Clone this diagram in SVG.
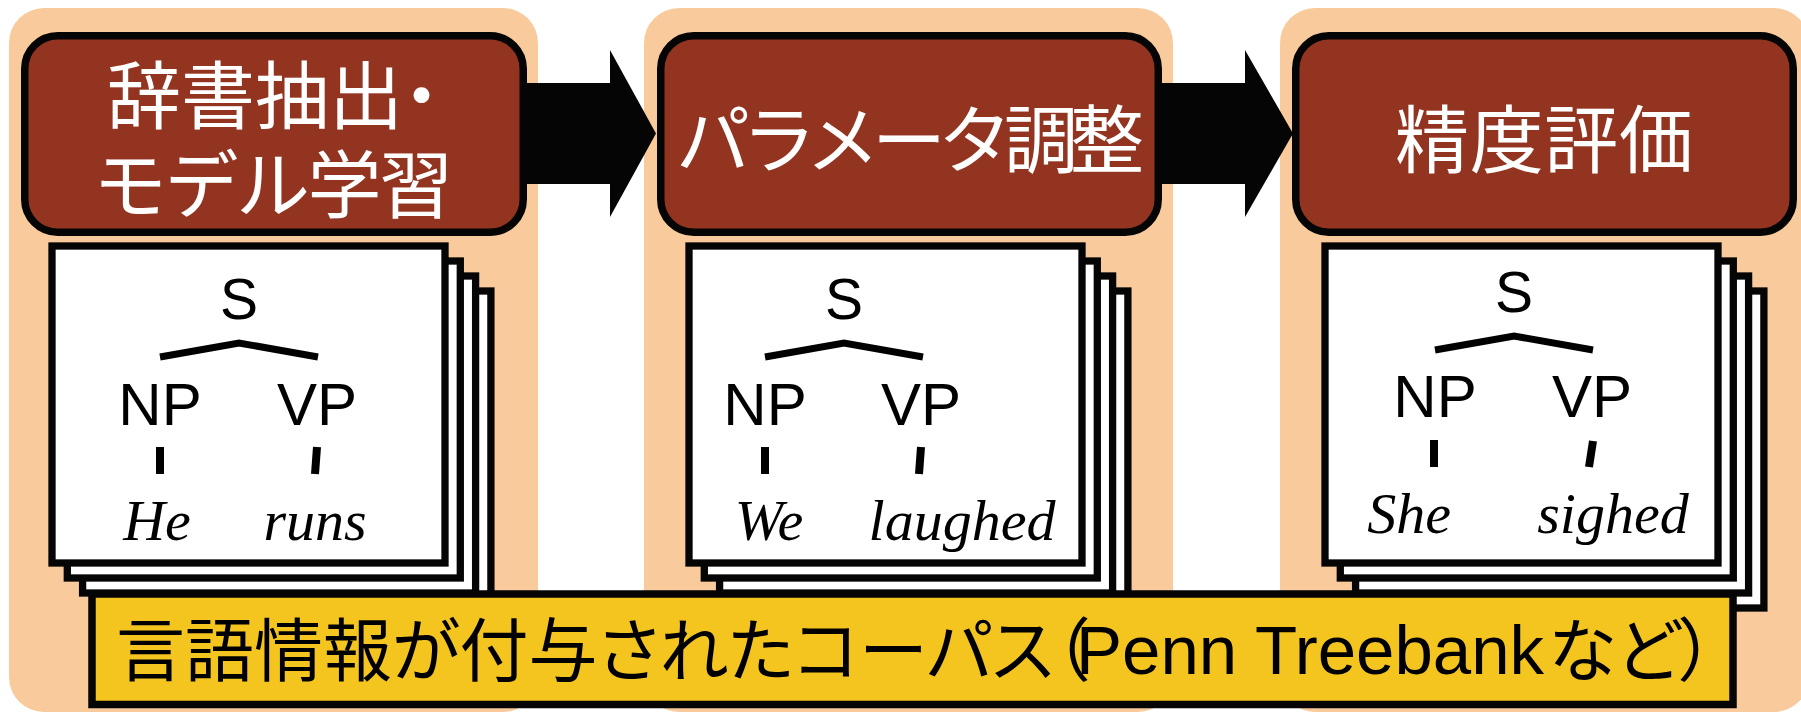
<svg xmlns="http://www.w3.org/2000/svg" width="1801" height="713" viewBox="0 0 1801 713">
<style>
.bg{fill:#F9CB9C}
.step{fill:#933420;stroke:#050505;stroke-width:7.5}
.steptxt{fill:#fff;font-family:"Noto Sans CJK JP",sans-serif;font-size:74px}
.page{fill:#fff;stroke:#050505;stroke-width:7.3;stroke-linejoin:miter}
.lbl{fill:#000;font-family:"Liberation Sans",Arial,sans-serif;text-anchor:middle}
.word{fill:#000;font-family:"Liberation Serif","Times New Roman",serif;font-style:italic;font-size:58px;text-anchor:middle}
.edge{fill:none;stroke:#000;stroke-width:7;stroke-linejoin:miter}
.tick{fill:none;stroke:#000;stroke-width:8}
.corpus{fill:#F4C51F;stroke:#050505;stroke-width:7.5}
.corptxt{fill:#000;font-family:"Liberation Sans","Noto Sans CJK JP",sans-serif;font-size:69px}
.arrow{fill:#050505}
.palt{font-feature-settings:"palt"}
</style>
<defs>
<g id="stack">
<rect class="page" x="45.9" y="45" width="393" height="317"/>
<rect class="page" x="30.6" y="30" width="393" height="317"/>
<rect class="page" x="15.3" y="15" width="393" height="317"/>
<rect class="page" x="0" y="0" width="393" height="317"/>
</g>
</defs>

<g id="panels">
<rect class="bg" x="9" y="8" width="529" height="704" rx="35"/>
<rect class="bg" x="644" y="8" width="529" height="704" rx="35"/>
<rect class="bg" x="1280" y="8" width="529" height="704" rx="35"/>
</g>

<g id="connectors">
<path class="arrow" d="M515 83 H610 V50 L656 133.5 L610 217 V184 H515 Z"/>
<path class="arrow" d="M1150 83 H1245 V50 L1293 133.5 L1245 217 V184 H1150 Z"/>
</g>

<g id="step-1">
<rect class="step" x="24.75" y="35.75" width="498.5" height="196.5" rx="33"/>
<text class="steptxt"><tspan x="107" y="123">辞書抽出<tspan class="palt">・</tspan></tspan><tspan x="93" y="212" textLength="360" lengthAdjust="spacing">モデル学習</tspan></text>
</g>

<g id="step-2">
<rect class="step" x="660.75" y="35.75" width="497.5" height="196.5" rx="33"/>
<text class="steptxt" x="676" y="166.5" textLength="468" lengthAdjust="spacing">パラメータ調整</text>
</g>

<g id="step-3">
<rect class="step" x="1295.75" y="35.75" width="497.5" height="196.5" rx="33"/>
<text class="steptxt" x="1395" y="167" textLength="298" lengthAdjust="spacing">精度評価</text>
</g>

<g id="doc-1">
<use href="#stack" x="52" y="246"/>
<text class="lbl" x="239" y="319" font-size="57">S</text>
<polyline class="edge" points="160,357 239,343 318,357"/>
<text class="lbl" x="160" y="425" font-size="60">NP</text>
<text class="lbl" x="317" y="425" font-size="60">VP</text>
<line class="tick" x1="160" y1="447" x2="160" y2="474"/>
<line class="tick" x1="317" y1="447" x2="315" y2="474"/>
<text class="word" x="157" y="540">He</text>
<text class="word" x="315" y="540">runs</text>
</g>

<g id="doc-2">
<use href="#stack" x="689" y="246"/>
<text class="lbl" x="844" y="319" font-size="57">S</text>
<polyline class="edge" points="765,357 844,343 923,357"/>
<text class="lbl" x="765" y="425" font-size="60">NP</text>
<text class="lbl" x="921" y="425" font-size="60">VP</text>
<line class="tick" x1="765" y1="447" x2="765" y2="474"/>
<line class="tick" x1="921" y1="447" x2="919" y2="474"/>
<text class="word" x="769" y="540">We</text>
<text class="word" x="962" y="540">laughed</text>
</g>

<g id="doc-3">
<use href="#stack" x="1325" y="246"/>
<text class="lbl" x="1514" y="312" font-size="57">S</text>
<polyline class="edge" points="1435,350 1514,336 1593,350"/>
<text class="lbl" x="1435" y="417" font-size="60">NP</text>
<text class="lbl" x="1592" y="417" font-size="60">VP</text>
<line class="tick" x1="1434" y1="440" x2="1434" y2="467"/>
<line class="tick" x1="1593" y1="441" x2="1589" y2="467"/>
<text class="word" x="1409" y="533">She</text>
<text class="word" x="1613" y="533">sighed</text>
</g>

<g id="corpus">
<rect class="corpus" x="92" y="594" width="1641" height="110.5"/>
<text class="corptxt" y="676"><tspan x="116" class="palt">言語情報が付与されたコーパス（</tspan><tspan x="1076" y="674">Penn Treebank</tspan><tspan x="1548" y="676" class="palt">など）</tspan></text>
</g>
</svg>
